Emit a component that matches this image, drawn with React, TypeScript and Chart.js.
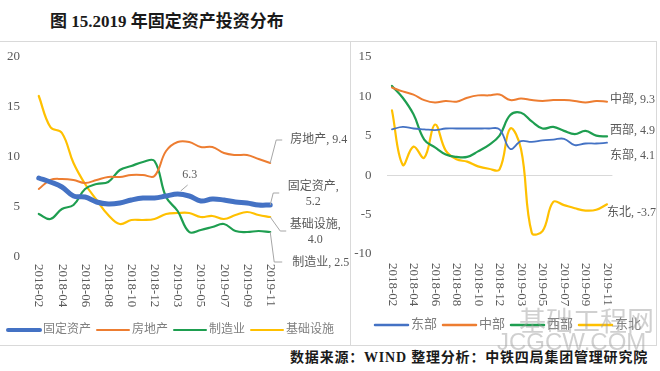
import React, { useEffect, useRef } from "react";
import { Chart, registerables } from "chart.js";

Chart.register(...registerables);

const FONT = "'Liberation Serif', 'Times New Roman', 'Noto Sans CJK SC', serif";

// ---------- shared categories ----------
const months = [
  "2018-02", "2018-03", "2018-04", "2018-05", "2018-06", "2018-07", "2018-08",
  "2018-09", "2018-10", "2018-11", "2018-12", "2019-02", "2019-03", "2019-04",
  "2019-05", "2019-06", "2019-07", "2019-08", "2019-09", "2019-10", "2019-11",
];

// ---------- left chart: by industry ----------
const leftNames = ["固定资产", "房地产", "制造业", "基础设施"];
const fixedAsset = [7.9, 7.5, 7.0, 6.1, 6.0, 5.5, 5.3, 5.4, 5.7, 5.9, 5.9, 6.1, 6.3, 6.1, 5.6, 5.8, 5.7, 5.5, 5.4, 5.2, 5.2];
const realEstate = [6.8, 7.7, 7.8, 7.7, 7.4, 7.7, 8.0, 8.0, 8.2, 8.2, 8.1, 10.6, 11.5, 11.5, 11.0, 11.0, 10.4, 10.2, 10.2, 9.8, 9.4];
const manufacturing = [4.3, 3.8, 4.8, 5.2, 6.8, 7.3, 7.5, 8.7, 9.1, 9.5, 9.6, 6.0, 4.6, 2.5, 2.7, 3.0, 3.3, 2.6, 2.5, 2.6, 2.5];
const infrastructure = [16.1, 13.0, 12.4, 9.4, 7.3, 5.7, 4.2, 3.3, 3.7, 3.7, 3.8, 4.3, 4.4, 4.4, 4.0, 4.1, 3.8, 4.2, 4.5, 4.2, 4.0];
const leftYMin = 0;
const leftYMax = 20;

// ---------- right chart: by region ----------
const rightNames = ["东部", "中部", "西部", "东北"];
const east = [5.8, 6.1, 5.9, 5.8, 5.7, 5.9, 5.9, 5.9, 5.9, 5.9, 5.8, 3.3, 4.3, 4.2, 4.4, 4.5, 4.6, 3.8, 4.0, 4.0, 4.1];
const central = [11.1, 10.6, 10.2, 9.5, 9.2, 9.4, 9.3, 9.8, 10.1, 10.1, 10.2, 9.5, 9.7, 9.5, 9.4, 9.5, 9.5, 9.4, 9.2, 9.4, 9.3];
const west = [11.3, 9.8, 7.7, 4.5, 3.5, 2.6, 2.3, 2.3, 3.0, 3.8, 5.0, 7.6, 7.9, 6.8, 5.9, 6.1, 5.6, 5.2, 5.6, 5.0, 4.9];
const northeast = [8.2, 1.3, 3.6, 2.2, 6.4, 3.1, 2.0, 1.7, 1.1, 0.8, 0.7, 5.9, 3.3, -7.3, -7.1, -3.4, -3.8, -4.2, -4.5, -4.4, -3.7];
const rightYMin = -10;
const rightYMax = 15;
const yStep = 5;

const BLUE = "#4472C4";
const ORANGE = "#ED7D31";
const GREEN = "#1E9E50";
const YELLOW = "#FFC000";

type EndLabel = {
  ds: number;
  index?: number;
  valueOnly?: boolean;
  split?: boolean;
  align: "left" | "center";
  dx: number;
  dy: number;
  lineGap?: number;
  leader?: [number, number][];
};

type PanelCfg = {
  width: number;
  height: number;
  padding: { top: number; right: number; bottom: number; left: number };
  yWidth: number;
  yPad: number;
  yMin: number;
  yMax: number;
  zeroLine: boolean;
  tickOffset: number;
  endLabels: EndLabel[];
  legend: { x: number; y: number; lineLen: number; gap1: number; gap2: number; font: number; widths: number[] };
  datasets: any[];
};

function makeDecor(cfg: PanelCfg) {
  return {
    id: "decor",
    afterDatasetsDraw(chart: any) {
      const ctx = chart.ctx as CanvasRenderingContext2D;
      const xs = chart.scales.x;
      const ys = chart.scales.y;
      ctx.save();
      // rotated x tick labels (clockwise, reading top to bottom)
      ctx.font = `13px ${FONT}`;
      ctx.fillStyle = "#595959";
      ctx.textAlign = "left";
      ctx.textBaseline = "middle";
      (chart.data.labels as string[]).forEach((lab, i) => {
        if (i % 2 !== 0) return;
        const x = xs.getPixelForValue(i);
        ctx.save();
        ctx.translate(x, chart.chartArea.bottom + cfg.tickOffset);
        ctx.rotate(Math.PI / 2);
        ctx.fillText(lab, 0, 0);
        ctx.restore();
      });

      // data labels with leader lines
      ctx.font = `12px ${FONT}`;
      cfg.endLabels.forEach((l) => {
        const ds = chart.data.datasets[l.ds];
        const idx = l.index ?? ds.data.length - 1;
        const v = ds.data[idx] as number;
        const px = xs.getPixelForValue(idx);
        const py = ys.getPixelForValue(v);
        if (l.leader) {
          ctx.beginPath();
          l.leader.forEach(([dx, dy], k) => {
            if (k === 0) ctx.moveTo(px + dx, py + dy);
            else ctx.lineTo(px + dx, py + dy);
          });
          ctx.strokeStyle = "#a6a6a6";
          ctx.lineWidth = 1;
          ctx.stroke();
        }
        const val = v.toFixed(1);
        const lines = l.valueOnly ? [val] : l.split ? [ds.label + ",", val] : [`${ds.label}, ${val}`];
        ctx.fillStyle = "#595959";
        ctx.textAlign = l.align;
        ctx.textBaseline = "middle";
        lines.forEach((t, k) => ctx.fillText(t, px + l.dx, py + l.dy + k * (l.lineGap ?? 15)));
      });

      // legend
      const lg = cfg.legend;
      let x = lg.x;
      ctx.font = `${lg.font}px ${FONT}`;
      ctx.textAlign = "left";
      ctx.textBaseline = "middle";
      chart.data.datasets.forEach((ds: any, i: number) => {
        ctx.beginPath();
        ctx.moveTo(x, lg.y);
        ctx.lineTo(x + lg.lineLen, lg.y);
        ctx.strokeStyle = ds.borderColor;
        ctx.lineWidth = lg.widths[i];
        ctx.lineCap = "round";
        ctx.stroke();
        const tx = x + lg.lineLen + lg.gap1;
        ctx.fillStyle = "#7f7f7f";
        ctx.fillText(ds.label, tx, lg.y);
        x = tx + ctx.measureText(ds.label).width + lg.gap2;
      });
      ctx.restore();
    },
  };
}

function Panel({ cfg, style }: { cfg: PanelCfg; style: React.CSSProperties }) {
  const ref = useRef<HTMLCanvasElement | null>(null);
  useEffect(() => {
    if (!ref.current) return;
    const chart = new Chart(ref.current, {
      type: "line",
      data: { labels: months, datasets: cfg.datasets },
      options: {
        animation: false,
        responsive: false,
        devicePixelRatio: 1,
        layout: { padding: cfg.padding, autoPadding: false },
        plugins: { legend: { display: false }, tooltip: { enabled: false } },
        elements: { point: { radius: 0 }, line: { tension: 0.4 } },
        scales: {
          x: {
            type: "category",
            offset: true,
            grid: { display: false, drawTicks: false },
            border: { display: false },
            ticks: { display: false },
            afterFit: (s: any) => {
              s.height = 0;
              s.paddingLeft = 0;
              s.paddingRight = 0;
            },
          },
          y: {
            min: cfg.yMin,
            max: cfg.yMax,
            ticks: {
              stepSize: yStep,
              padding: cfg.yPad,
              color: "#595959",
              font: { family: FONT, size: 13 },
            },
            grid: {
              display: cfg.zeroLine,
              drawTicks: false,
              color: (c: any) => (c.tick && c.tick.value === 0 ? "#d9d9d9" : "rgba(0,0,0,0)"),
              lineWidth: 1,
            },
            border: { display: false },
            afterFit: (s: any) => {
              s.width = cfg.yWidth;
              s.paddingTop = 0;
              s.paddingBottom = 0;
            },
          },
        },
      } as any,
      plugins: [makeDecor(cfg)],
    });
    return () => chart.destroy();
  }, []);
  return (
    <canvas
      ref={ref}
      width={cfg.width}
      height={cfg.height}
      style={{ position: "absolute", width: cfg.width, height: cfg.height, ...style }}
    />
  );
}

const lineDs = (label: string, data: number[], color: string, width: number) => ({
  label,
  data,
  borderColor: color,
  backgroundColor: color,
  borderWidth: width,
  pointRadius: 0,
  fill: false,
  borderCapStyle: "round",
  borderJoinStyle: "round",
});

const leftCfg: PanelCfg = {
  width: 350,
  height: 303,
  padding: { top: 15, right: 74, bottom: 88, left: 0 },
  yWidth: 33,
  yPad: 13,
  yMin: leftYMin,
  yMax: leftYMax,
  zeroLine: false,
  tickOffset: 7,
  datasets: [
    lineDs(leftNames[0], fixedAsset, BLUE, 5),
    lineDs(leftNames[1], realEstate, ORANGE, 2),
    lineDs(leftNames[2], manufacturing, GREEN, 2.2),
    lineDs(leftNames[3], infrastructure, YELLOW, 2.2),
  ],
  endLabels: [
    { ds: 1, align: "left", dx: 20, dy: -23, leader: [[0, 0], [6, -23], [12, -23]] },
    { ds: 0, split: true, align: "center", dx: 43, dy: -18, leader: [[0, 0], [3, -12], [9, -12]] },
    { ds: 3, split: true, align: "center", dx: 45, dy: 8, leader: [[0, 0], [10, 14], [16, 14]] },
    { ds: 2, align: "left", dx: 22, dy: 31, leader: [[0, 0], [4, 30], [12, 30]] },
    { ds: 0, index: 12, valueOnly: true, align: "center", dx: 12, dy: -19, leader: [[3, -3], [10, -9]] },
  ],
  legend: { x: 8, y: 288, lineLen: 32, gap1: 3, gap2: 6, font: 12, widths: [4, 2, 2, 2] },
};

const rightCfg: PanelCfg = {
  width: 306,
  height: 303,
  padding: { top: 14.7, right: 43.6, bottom: 91, left: 0 },
  yWidth: 36.6,
  yPad: 15,
  yMin: rightYMin,
  yMax: rightYMax,
  zeroLine: true,
  tickOffset: 9,
  datasets: [
    lineDs(rightNames[0], east, BLUE, 1.8),
    lineDs(rightNames[1], central, ORANGE, 2),
    lineDs(rightNames[2], west, GREEN, 2.2),
    lineDs(rightNames[3], northeast, YELLOW, 2.2),
  ],
  endLabels: [
    { ds: 1, align: "left", dx: 3, dy: -2 },
    { ds: 2, align: "left", dx: 3, dy: -6 },
    { ds: 0, align: "left", dx: 3, dy: 13 },
    { ds: 3, align: "left", dx: 0, dy: 9 },
  ],
  legend: { x: 25, y: 283, lineLen: 33, gap1: 3, gap2: 6, font: 13, widths: [2.5, 2.5, 2.5, 2.5] },
};

export default function App() {
  return (
    <div
      style={{
        position: "absolute",
        left: 0,
        top: 0,
        width: 660,
        height: 371,
        background: "#fff",
        overflow: "hidden",
        fontFamily: FONT,
      }}
    >
      <div
        style={{
          position: "absolute",
          left: 50,
          top: 12,
          lineHeight: "20px",
          fontSize: 17,
          fontWeight: "bold",
          color: "#1a1a1a",
          whiteSpace: "nowrap",
        }}
      >
        图 15.2019 年固定资产投资分布
      </div>
      {/* panel frames */}
      <div style={{ position: "absolute", left: 0, top: 41, width: 656, height: 0, borderTop: "1px solid #d9d9d9" }} />
      <div style={{ position: "absolute", left: 0, top: 345, width: 656, height: 0, borderTop: "1px solid #d9d9d9" }} />
      <div style={{ position: "absolute", left: 350, top: 41, width: 0, height: 305, borderLeft: "1px solid #d9d9d9" }} />
      <div style={{ position: "absolute", left: 656, top: 41, width: 0, height: 305, borderLeft: "1px solid #d9d9d9" }} />
      <Panel cfg={leftCfg} style={{ left: 0, top: 42 }} />
      <Panel cfg={rightCfg} style={{ left: 350, top: 42 }} />
      {/* watermark */}
      <div
        style={{
          position: "absolute",
          left: 519,
          top: 303,
          fontSize: 27,
          lineHeight: "34px",
          color: "rgba(150,150,150,0.45)",
          fontFamily: "'Noto Sans CJK SC', sans-serif",
          whiteSpace: "nowrap",
        }}
      >
        基础工程网
      </div>
      <div
        style={{
          position: "absolute",
          left: 497,
          top: 327,
          fontSize: 24,
          lineHeight: "30px",
          height: 30,
          color: "rgba(150,150,150,0.45)",
          fontFamily: "'Liberation Sans', Arial, sans-serif",
          whiteSpace: "nowrap",
          zIndex: 2,
        }}
      >
        JCGCW.COM
      </div>
      <div
        style={{
          position: "absolute",
          left: 0,
          width: 648,
          top: 348,
          lineHeight: "20px",
          fontSize: 14,
          letterSpacing: "0.8px",
          fontWeight: "bold",
          color: "#1a1a1a",
          textAlign: "right",
          whiteSpace: "nowrap",
        }}
      >
        数据来源：WIND 整理分析：中铁四局集团管理研究院
      </div>
    </div>
  );
}
